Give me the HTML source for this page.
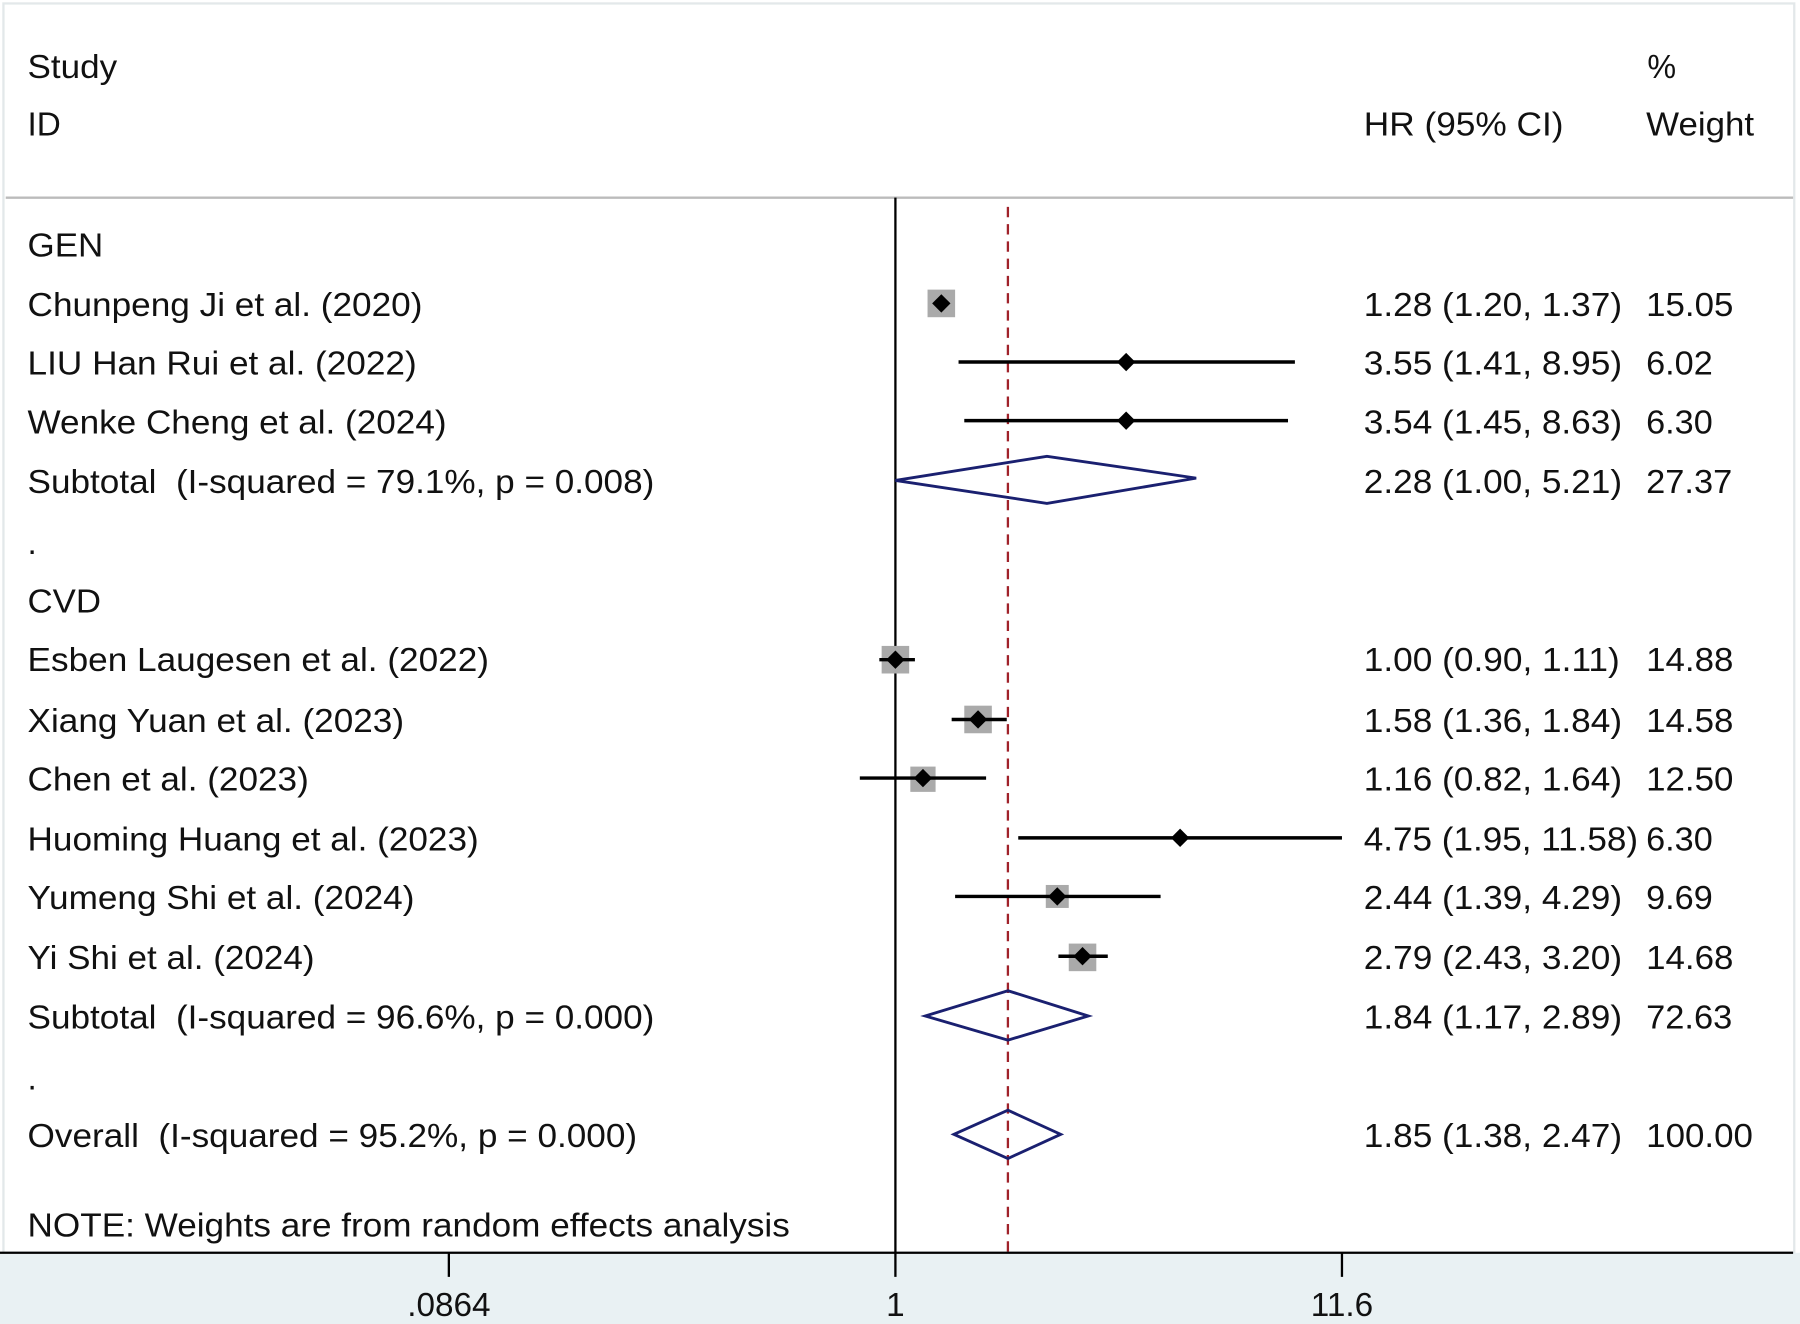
<!DOCTYPE html>
<html><head><style>html,body{margin:0;padding:0;background:#fff}svg{display:block}</style></head>
<body>
<svg width="1800" height="1324" viewBox="0 0 1568 1152" preserveAspectRatio="none" xmlns="http://www.w3.org/2000/svg" font-family="Liberation Sans, Arial, sans-serif" font-size="29" fill="#111">
<rect x="0" y="0" width="1568" height="1152" fill="#fff"/>
<rect x="3" y="3" width="1560" height="1087" fill="none" stroke="#e3e8ea" stroke-width="2"/>
<rect x="0" y="1090" width="1568" height="62" fill="#e9f1f3"/>
<line x1="5" y1="172" x2="1562" y2="172" stroke="#bbb" stroke-width="2"/>
<g lengthAdjust="spacingAndGlyphs">
<text x="24" y="68" textLength="78" lengthAdjust="spacingAndGlyphs">Study</text>
<text x="24" y="118" textLength="29" lengthAdjust="spacingAndGlyphs">ID</text>
<text x="1435" y="68" textLength="25" lengthAdjust="spacingAndGlyphs">%</text>
<text x="1188" y="118" textLength="174" lengthAdjust="spacingAndGlyphs">HR (95% CI)</text>
<text x="1434" y="118" textLength="94" lengthAdjust="spacingAndGlyphs">Weight</text>
</g>
<line x1="780" y1="172" x2="780" y2="1090" stroke="#000" stroke-width="2"/>
<line x1="878" y1="180" x2="878" y2="1090" stroke="#a0222a" stroke-width="2" stroke-dasharray="9,6"/>
<line x1="0" y1="1090" x2="1562" y2="1090" stroke="#000" stroke-width="2"/>
<line x1="391" y1="1090" x2="391" y2="1111" stroke="#000" stroke-width="2"/>
<line x1="780" y1="1090" x2="780" y2="1111" stroke="#000" stroke-width="2"/>
<line x1="1169" y1="1090" x2="1169" y2="1111" stroke="#000" stroke-width="2"/>
<text x="391" y="1145" text-anchor="middle">.0864</text>
<text x="780" y="1145" text-anchor="middle">1</text>
<text x="1169" y="1145" text-anchor="middle">11.6</text>
<g>
<text x="24" y="223" textLength="66" lengthAdjust="spacingAndGlyphs">GEN</text>
<text x="24" y="275" textLength="344" lengthAdjust="spacingAndGlyphs">Chunpeng Ji et al. (2020)</text>
<text x="24" y="326" textLength="339" lengthAdjust="spacingAndGlyphs">LIU Han Rui et al. (2022)</text>
<text x="24" y="377" textLength="365" lengthAdjust="spacingAndGlyphs">Wenke Cheng et al. (2024)</text>
<text x="24" y="429" textLength="546" lengthAdjust="spacingAndGlyphs" xml:space="preserve">Subtotal  (I-squared = 79.1%, p = 0.008)</text>
<text x="24" y="482">.</text>
<text x="24" y="533" textLength="64" lengthAdjust="spacingAndGlyphs">CVD</text>
<text x="24" y="584" textLength="402" lengthAdjust="spacingAndGlyphs">Esben Laugesen et al. (2022)</text>
<text x="24" y="637" textLength="328" lengthAdjust="spacingAndGlyphs">Xiang Yuan et al. (2023)</text>
<text x="24" y="688" textLength="245" lengthAdjust="spacingAndGlyphs">Chen et al. (2023)</text>
<text x="24" y="740" textLength="393" lengthAdjust="spacingAndGlyphs">Huoming Huang et al. (2023)</text>
<text x="24" y="791" textLength="337" lengthAdjust="spacingAndGlyphs">Yumeng Shi et al. (2024)</text>
<text x="24" y="843" textLength="250" lengthAdjust="spacingAndGlyphs">Yi Shi et al. (2024)</text>
<text x="24" y="895" textLength="546" lengthAdjust="spacingAndGlyphs" xml:space="preserve">Subtotal  (I-squared = 96.6%, p = 0.000)</text>
<text x="24" y="948">.</text>
<text x="24" y="998" textLength="531" lengthAdjust="spacingAndGlyphs" xml:space="preserve">Overall  (I-squared = 95.2%, p = 0.000)</text>
<text x="24" y="1076" textLength="664" lengthAdjust="spacingAndGlyphs">NOTE: Weights are from random effects analysis</text>
</g>
<g>
<text x="1188" y="275" textLength="225" lengthAdjust="spacingAndGlyphs">1.28 (1.20, 1.37)</text><text x="1434" y="275" textLength="76" lengthAdjust="spacingAndGlyphs">15.05</text>
<text x="1188" y="326" textLength="225" lengthAdjust="spacingAndGlyphs">3.55 (1.41, 8.95)</text><text x="1434" y="326" textLength="58" lengthAdjust="spacingAndGlyphs">6.02</text>
<text x="1188" y="377" textLength="225" lengthAdjust="spacingAndGlyphs">3.54 (1.45, 8.63)</text><text x="1434" y="377" textLength="58" lengthAdjust="spacingAndGlyphs">6.30</text>
<text x="1188" y="429" textLength="225" lengthAdjust="spacingAndGlyphs">2.28 (1.00, 5.21)</text><text x="1434" y="429" textLength="75" lengthAdjust="spacingAndGlyphs">27.37</text>
<text x="1188" y="584" textLength="223" lengthAdjust="spacingAndGlyphs">1.00 (0.90, 1.11)</text><text x="1434" y="584" textLength="76" lengthAdjust="spacingAndGlyphs">14.88</text>
<text x="1188" y="637" textLength="225" lengthAdjust="spacingAndGlyphs">1.58 (1.36, 1.84)</text><text x="1434" y="637" textLength="76" lengthAdjust="spacingAndGlyphs">14.58</text>
<text x="1188" y="688" textLength="225" lengthAdjust="spacingAndGlyphs">1.16 (0.82, 1.64)</text><text x="1434" y="688" textLength="76" lengthAdjust="spacingAndGlyphs">12.50</text>
<text x="1188" y="740" textLength="239" lengthAdjust="spacingAndGlyphs">4.75 (1.95, 11.58)</text><text x="1434" y="740" textLength="58" lengthAdjust="spacingAndGlyphs">6.30</text>
<text x="1188" y="791" textLength="225" lengthAdjust="spacingAndGlyphs">2.44 (1.39, 4.29)</text><text x="1434" y="791" textLength="58" lengthAdjust="spacingAndGlyphs">9.69</text>
<text x="1188" y="843" textLength="225" lengthAdjust="spacingAndGlyphs">2.79 (2.43, 3.20)</text><text x="1434" y="843" textLength="76" lengthAdjust="spacingAndGlyphs">14.68</text>
<text x="1188" y="895" textLength="225" lengthAdjust="spacingAndGlyphs">1.84 (1.17, 2.89)</text><text x="1434" y="895" textLength="75" lengthAdjust="spacingAndGlyphs">72.63</text>
<text x="1188" y="998" textLength="225" lengthAdjust="spacingAndGlyphs">1.85 (1.38, 2.47)</text><text x="1434" y="998" textLength="93" lengthAdjust="spacingAndGlyphs">100.00</text>
</g>
<g fill="#aaa">
<rect x="808" y="252" width="24" height="24"/>
<rect x="768" y="562" width="24" height="24"/>
<rect x="840" y="614" width="24" height="24"/>
<rect x="793" y="667" width="22" height="22"/>
<rect x="911" y="770" width="20" height="20"/>
<rect x="931" y="821" width="24" height="24"/>
</g>
<g stroke="#000" stroke-width="3">
<line x1="835" y1="315" x2="1128" y2="315"/>
<line x1="840" y1="366" x2="1122" y2="366"/>
<line x1="766" y1="574" x2="797" y2="574"/>
<line x1="829" y1="626" x2="877" y2="626"/>
<line x1="749" y1="677" x2="859" y2="677"/>
<line x1="887" y1="729" x2="1169" y2="729"/>
<line x1="832" y1="780" x2="1011" y2="780"/>
<line x1="922" y1="832" x2="965" y2="832"/>
</g>
<g fill="#000">
<path d="M820 256l8 8-8 8-8-8z"/>
<path d="M981 307l8 8-8 8-8-8z"/>
<path d="M981 358l8 8-8 8-8-8z"/>
<path d="M780 566l8 8-8 8-8-8z"/>
<path d="M852 618l8 8-8 8-8-8z"/>
<path d="M804 669l8 8-8 8-8-8z"/>
<path d="M1028 721l8 8-8 8-8-8z"/>
<path d="M921 772l8 8-8 8-8-8z"/>
<path d="M943 824l8 8-8 8-8-8z"/>
</g>
<g fill="none" stroke="#1a2070" stroke-width="2.5">
<path d="M780 418L912 397L1042 416L912 438Z"/>
<path d="M806 884L878 862L948 884L878 905Z"/>
<path d="M831 987L878 966L924 987L878 1008Z"/>
</g>
</svg>
</body></html>
